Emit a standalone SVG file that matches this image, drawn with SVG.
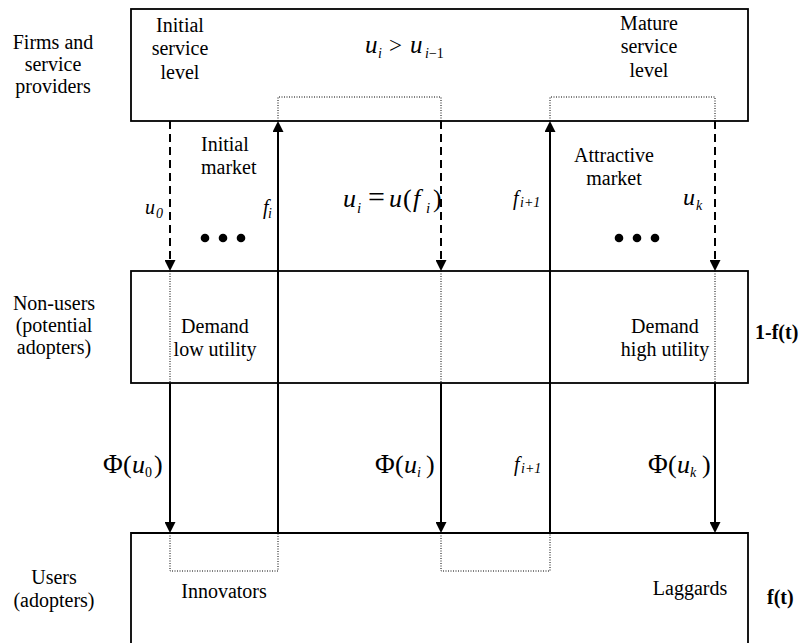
<svg xmlns="http://www.w3.org/2000/svg" width="803" height="643" viewBox="0 0 803 643" font-family="'Liberation Serif', 'Times New Roman', 'DejaVu Serif', serif">
<style>
text{font-family:'Liberation Serif','Times New Roman','DejaVu Serif',serif;fill:#000}
.t{font-size:20px;text-anchor:middle}
.ts{font-size:20px}
.b{font-size:20px;font-weight:bold}
.it{font-style:italic}
.box{fill:#fff;stroke:#000;stroke-width:1.8}
.solid{stroke:#000;stroke-width:2;fill:none}
.dash{stroke:#000;stroke-width:2;fill:none;stroke-dasharray:8 5}
.dot{stroke:#000;stroke-width:1;fill:none;stroke-dasharray:1 1.5}
</style>
<defs>
<marker id="ah" viewBox="0 0 11 11" markerWidth="11" markerHeight="11" refX="9" refY="5.5" orient="auto" markerUnits="userSpaceOnUse">
<path d="M0,0 L11,5.5 L0,11 z" fill="#000"/>
</marker>
</defs>
<rect width="803" height="643" fill="#fff"/>

<g id="firms">
<text class="t" x="53" y="49">Firms and</text>
<text class="t" x="53" y="71">service</text>
<text class="t" x="53" y="93">providers</text>
<rect class="box" x="131" y="9" width="617" height="112"/>
<text class="t" x="180" y="32">Initial</text>
<text class="t" x="180" y="55">service</text>
<text class="t" x="180" y="79">level</text>
<text class="t" x="649" y="30">Mature</text>
<text class="t" x="649" y="53">service</text>
<text class="t" x="649" y="77">level</text>
<text class="it" x="365" y="53" font-size="25">u</text>
<text class="it" x="378" y="58" font-size="14">i</text>
<text x="389" y="53" font-size="23">&gt;</text>
<text class="it" x="410" y="53" font-size="25">u</text>
<text x="425" y="58" font-size="14"><tspan class="it">i</tspan>−1</text>
</g>

<g id="nonusers">
<text class="t" x="54" y="310">Non-users</text>
<text class="t" x="54" y="332">(potential</text>
<text class="t" x="54" y="354">adopters)</text>
<rect class="box" x="131" y="271" width="617" height="112"/>
<text class="t" x="215" y="333">Demand</text>
<text class="t" x="215" y="356">low utility</text>
<text class="t" x="665" y="333">Demand</text>
<text class="t" x="665" y="356">high utility</text>
<text class="b" x="755" y="339">1-f(t)</text>
</g>

<g id="users">
<text class="t" x="54" y="584">Users</text>
<text class="t" x="54" y="607">(adopters)</text>
<path class="box" d="M131,660 V533 H748 V660"/>
<text class="t" x="224" y="598">Innovators</text>
<text class="t" x="690" y="595">Laggards</text>
<text class="b" x="767" y="604">f(t)</text>
</g>

<g id="connectors">
<path class="dot" d="M278,121 V97 H441 V121"/>
<path class="dot" d="M550,121 V97 H715 V121"/>
<path class="dot" d="M170,271 V383 M441,271 V383 M715,271 V383"/>
<path class="dot" d="M170,533 V571 H278 V533"/>
<path class="dot" d="M441,533 V571 H550 V533"/>
<line class="dash" x1="170" y1="121" x2="170" y2="269" marker-end="url(#ah)"/>
<line class="dash" x1="441" y1="121" x2="441" y2="269" marker-end="url(#ah)"/>
<line class="dash" x1="715" y1="121" x2="715" y2="269" marker-end="url(#ah)"/>
<line class="solid" x1="278" y1="533" x2="278" y2="123" marker-end="url(#ah)"/>
<line class="solid" x1="550" y1="533" x2="550" y2="123" marker-end="url(#ah)"/>
<line class="solid" x1="170" y1="383" x2="170" y2="531" marker-end="url(#ah)"/>
<line class="solid" x1="441" y1="383" x2="441" y2="531" marker-end="url(#ah)"/>
<line class="solid" x1="715" y1="383" x2="715" y2="531" marker-end="url(#ah)"/>

<text class="ts" x="201" y="151">Initial</text>
<text class="ts" x="201" y="174">market</text>
<text class="t" x="614" y="162">Attractive</text>
<text class="t" x="614" y="185">market</text>
<circle cx="205" cy="238" r="4.3"/><circle cx="223" cy="238" r="4.3"/><circle cx="241" cy="238" r="4.3"/>
<circle cx="619" cy="238" r="4.3"/><circle cx="637" cy="238" r="4.3"/><circle cx="655" cy="238" r="4.3"/>

<text class="it" x="145" y="214" font-size="20">u</text>
<text class="it" x="156" y="218" font-size="14">0</text>
<text class="it" x="263" y="214" font-size="20">f</text>
<text class="it" x="268" y="218" font-size="14">i</text>

<text class="it" x="343" y="207" font-size="26">u</text>
<text class="it" x="357" y="213" font-size="15">i</text>
<text x="368" y="207" font-size="30">=</text>
<text class="it" x="389" y="207" font-size="26">u</text>
<text x="403" y="207" font-size="26">(</text>
<text class="it" x="413" y="207" font-size="26">f</text>
<text class="it" x="426" y="213" font-size="15">i</text>
<text x="433" y="207" font-size="26">)</text>

<text class="it" x="513" y="205" font-size="20">f</text>
<text class="it" x="520" y="207" font-size="14">i+1</text>
<text class="it" x="683" y="205" font-size="24">u</text>
<text class="it" x="696" y="210" font-size="14">k</text>

<text x="103" y="473" font-size="27">Φ</text>
<text x="123" y="473" font-size="26">(</text>
<text class="it" x="132" y="473" font-size="26">u</text>
<text x="145" y="477" font-size="14">0</text>
<text x="154" y="473" font-size="26">)</text>

<text x="375" y="473" font-size="27">Φ</text>
<text x="395" y="473" font-size="26">(</text>
<text class="it" x="404" y="473" font-size="26">u</text>
<text class="it" x="417" y="477" font-size="14">i</text>
<text x="426" y="473" font-size="26">)</text>

<text class="it" x="514" y="471" font-size="20">f</text>
<text class="it" x="521" y="473" font-size="14">i+1</text>

<text x="648" y="473" font-size="27">Φ</text>
<text x="668" y="473" font-size="26">(</text>
<text class="it" x="677" y="473" font-size="26">u</text>
<text class="it" x="690" y="477" font-size="14">k</text>
<text x="702" y="473" font-size="26">)</text>
</g>
</svg>
